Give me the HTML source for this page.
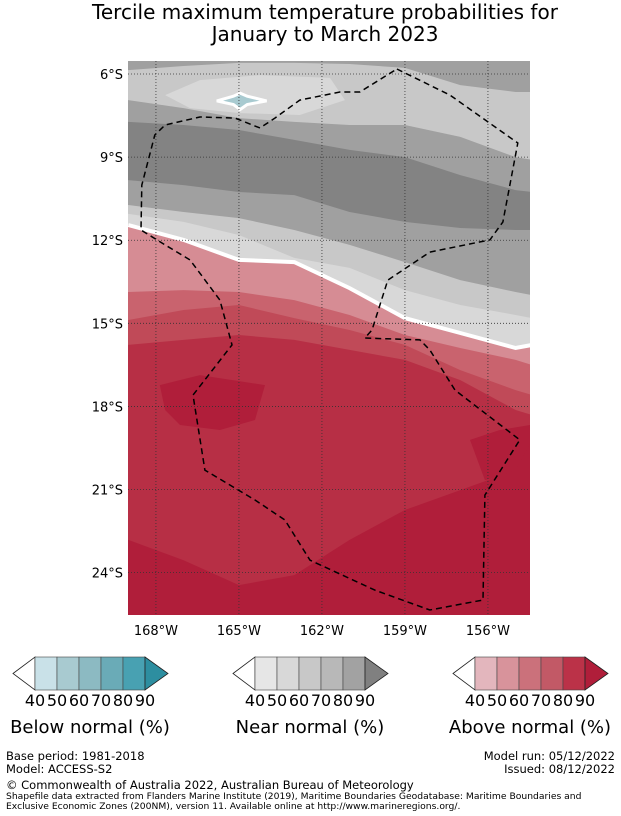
<!DOCTYPE html>
<html><head><meta charset="utf-8">
<style>
body{margin:0;background:#fff;width:621px;height:816px;overflow:hidden;font-family:"DejaVu Sans","Liberation Sans",sans-serif;color:#000}
svg{position:absolute;left:0;top:0}
</style></head>
<body>
<svg id="chart" width="621" height="816" viewBox="0 0 621 816" xmlns="http://www.w3.org/2000/svg" font-family="DejaVu Sans, Liberation Sans, sans-serif">
  <text x="325" y="19" font-size="20" text-anchor="middle">Tercile maximum temperature probabilities for</text>
  <text x="325" y="41" font-size="20" text-anchor="middle">January to March 2023</text>
  <defs><clipPath id="mapclip"><rect x="128" y="61" width="402" height="554"/></clipPath></defs>
  <g id="map" clip-path="url(#mapclip)"></g>
  <g id="axes"></g>
  <g id="legends"></g>
  <text x="6" y="760" font-size="11.5">Base period: 1981-2018</text>
  <text x="6" y="773" font-size="11.5">Model: ACCESS-S2</text>
  <text x="615" y="760" font-size="11.5" text-anchor="end">Model run: 05/12/2022</text>
  <text x="615" y="773" font-size="11.5" text-anchor="end">Issued: 08/12/2022</text>
  <text x="6" y="789" font-size="11.5">© Commonwealth of Australia 2022, Australian Bureau of Meteorology</text>
  <text x="6" y="799" font-size="9.2">Shapefile data extracted from Flanders Marine Institute (2019), Maritime Boundaries Geodatabase: Maritime Boundaries and</text>
  <text x="6" y="809" font-size="9.2">Exclusive Economic Zones (200NM), version 11. Available online at http://www.marineregions.org/.</text>
</svg>
<script>
// ---- data ----
const lonTicks = [-168, -165, -162, -159, -156];
const latTicks = [-6, -9, -12, -15, -18, -21, -24];
const sampleLons = [-169, -167, -165, -163, -161, -159, -157, -155, -154.4];
const topColor = "#a0a0a0";
const bandColors = ["#c8c8c8","#a0a0a0","#838383","#a0a0a0","#c8c8c8","#d8d8d8","#d68c94","#c9636e","#c04a58","#b72f45","#b01e3a"];
const b1 = [-5.86,-5.71,-5.60,-5.60,-5.64,-5.78,-6.40,-6.65,-6.65];
const b3 = [-6.94,-7.23,-7.59,-7.73,-7.84,-7.84,-8.27,-9.00,-9.10];
const b4 = [-7.73,-7.84,-8.02,-8.38,-8.74,-9.00,-9.65,-10.19,-10.26];
const b5 = [-9.83,-10.01,-10.26,-10.37,-10.98,-11.34,-11.56,-11.63,-11.63];
const b6 = [-10.73,-10.98,-11.20,-11.63,-12.17,-12.79,-13.44,-13.87,-13.98];
const b7 = [-11.05,-11.34,-11.81,-12.64,-13.00,-13.80,-14.34,-14.70,-14.81];
const b8 = [-11.45,-11.99,-12.71,-12.79,-13.73,-14.81,-15.35,-15.89,-15.78];
const b9 = [-13.87,-13.80,-13.87,-14.16,-14.70,-15.42,-15.89,-16.32,-16.51];
const b10 = [-14.88,-14.52,-14.34,-14.81,-15.24,-15.78,-16.69,-17.41,-17.59];
const b11 = [-15.78,-15.60,-15.42,-15.60,-15.96,-16.32,-17.05,-18.13,-18.31];
const b12 = [-22.82,-23.55,-24.45,-24.09,-22.82,-21.74,-21.02,-20.30,-19.21];
const lightBlobLon = [-167.67,-166.41,-164.24,-161.71,-161.17,-162.80,-164.96,-166.77];
const lightBlobLat = [-6.76,-6.22,-6.04,-6.14,-6.94,-7.48,-7.41,-7.23];
const bluePatchLon = [-165.8,-165.2,-164.96,-164.7,-164.0,-164.7,-164.96,-165.2];
const bluePatchLat = [-6.97,-6.8,-6.69,-6.8,-6.97,-7.1,-7.28,-7.1];
const darkBlobLon = [-167.86,-166.41,-164.06,-164.42,-165.69,-167.13,-167.67];
const darkBlobLat = [-17.23,-16.87,-17.23,-18.49,-18.85,-18.67,-18.13];
const darkBlob2Lon = [-156.65,-155.57,-154.48,-154.48,-156.11];
const darkBlob2Lat = [-19.21,-18.85,-18.67,-20.30,-20.66];
const eezLon = [-159.29,-157.37,-154.92,-155.46,-155.93,-158.10,-159.62,-160.19,-160.45,-158.46,-158.10,-157.19,-154.85,-156.11,-156.18,-158.10,-160.09,-162.43,-163.34,-164.42,-166.23,-166.66,-165.25,-165.69,-166.77,-167.67,-168.54,-168.51,-168.04,-167.67,-166.41,-165.14,-164.24,-163.70,-162.80,-161.35,-160.63,-159.29];
const eezLat = [-5.82,-6.76,-8.49,-11.34,-11.99,-12.43,-13.44,-15.24,-15.53,-15.60,-15.96,-17.41,-19.21,-21.20,-24.99,-25.35,-24.63,-23.55,-22.10,-21.38,-20.30,-17.59,-15.78,-14.16,-12.71,-12.17,-11.63,-10.01,-8.20,-7.84,-7.55,-7.59,-7.95,-7.59,-6.94,-6.65,-6.65,-5.82];
const levelLabels = ["40","50","60","70","80","90"];
const legendNames = ["Below normal (%)","Near normal (%)","Above normal (%)"];
const blueScale = ["#ffffff","#c9e1e8","#a8cad0","#8cbac2","#6aabb7","#48a1b2","#2d8ea0"];
const grayScale = ["#ffffff","#e6e6e6","#d8d8d8","#c8c8c8","#b8b8b8","#a2a2a2","#808080"];
const redScale = ["#ffffff","#e3b6bd","#d8939b","#cb717b","#c25966","#bb3248","#b01e3a"];

// ---- axes functions ----
const X0=128, X1=530, Y0=61, Y1=615;
const lonMin=-169.01, lonMax=-154.48, latMax=-5.53, latMin=-25.53;
const xs = lon => X0 + (lon-lonMin)/(lonMax-lonMin)*(X1-X0);
const ys = lat => Y0 + (latMax-lat)/(latMax-latMin)*(Y1-Y0);
const NS="http://www.w3.org/2000/svg";
function mk(tag, attrs, parent){const e=document.createElementNS(NS,tag);for(const k in attrs)e.setAttribute(k,attrs[k]);parent.appendChild(e);return e;}
const map=document.getElementById('map'), axes=document.getElementById('axes'), leg=document.getElementById('legends');

let r=mk('rect',{x:X0,y:Y0,width:X1-X0,height:Y1-Y0,fill:topColor},map);



function bandPath(lats){
  let d='M'+(X0-5)+','+(Y1+5);
  d+=' L'+(X0-5)+','+ys(lats[0]);
  sampleLons.forEach((lo,i)=>{d+=' L'+xs(lo).toFixed(1)+','+ys(lats[i]).toFixed(1);});
  d+=' L'+(X1+5)+','+ys(lats[lats.length-1]).toFixed(1)+' L'+(X1+5)+','+(Y1+5)+' Z';
  return d;
}
function polyPath(lons,lats){return 'M'+lons.map((lo,i)=>xs(lo).toFixed(1)+','+ys(lats[i]).toFixed(1)).join(' L')+' Z';}

const bounds=[b1,b3,b4,b5,b6,b7,b8,b9,b10,b11,b12];
bounds.forEach((b,i)=>{
  if(i===1){
    const lb=mk('path',{d:polyPath(lightBlobLon,lightBlobLat),fill:"#d8d8d8"},map);
    
    
  }
  if(i===10){
    const db=mk('path',{d:polyPath(darkBlobLon,darkBlobLat),fill:"#b01e3a"},map);
    
    
    const db2=mk('path',{d:polyPath(darkBlob2Lon,darkBlob2Lat),fill:"#b01e3a"},map);
    
    
  }
  const p=mk('path',{d:bandPath(b),fill:bandColors[i]},map);
  
  
  if(i===6){
    let d='';sampleLons.forEach((lo,j)=>{d+=(j?' L':'M')+xs(lo).toFixed(1)+','+ys(b[j]).toFixed(1);});
    const w=mk('path',{d:d,fill:'none',stroke:'#fff','stroke-width':4},map);
    
    
  }
});
const bp=mk('path',{d:polyPath(bluePatchLon,bluePatchLat),fill:"#a8cad0",stroke:"#fff","stroke-width":3},map);



lonTicks.forEach(lo=>{
  const l=mk('line',{x1:xs(lo),x2:xs(lo),y1:Y0,y2:Y1,stroke:'#333','stroke-width':0.8,'stroke-dasharray':'1,2'},map);
  
  
  const t=mk('text',{x:xs(lo),y:635,'font-size':13,'text-anchor':'middle'},axes);
  t.textContent=Math.abs(lo)+'°W';
  
  
});
latTicks.forEach(la=>{
  const l=mk('line',{x1:X0,x2:X1,y1:ys(la),y2:ys(la),stroke:'#333','stroke-width':0.8,'stroke-dasharray':'1,2'},map);
  
  
  const t=mk('text',{x:123,y:ys(la)+5,'font-size':13,'text-anchor':'end'},axes);
  t.textContent=Math.abs(la)+'°S';
  
  
});
const eez=mk('path',{d:polyPath(eezLon,eezLat),fill:'none',stroke:'#000','stroke-width':1.5,'stroke-dasharray':'6,4'},map);



const legX=[13,233,453], scales=[blueScale,grayScale,redScale];
legX.forEach((x0,k)=>{
  const g=mk('g',{},leg);
  
  
  const yT=657,yB=690,ym=673.5,bw=22,bx=x0+22;
  const lt=mk('polygon',{points:`${x0},${ym} ${bx},${yT} ${bx},${yB}`,fill:scales[k][0],stroke:'#222','stroke-width':0.8},g);
  
  
  for(let i=0;i<5;i++){
    const c=mk('rect',{x:bx+i*bw,y:yT,width:bw,height:yB-yT,fill:scales[k][i+1],stroke:'#444','stroke-width':0.6},g);
    
    
  }
  const ex=bx+5*bw;
  const rt=mk('polygon',{points:`${ex},${yT} ${ex+23},${ym} ${ex},${yB}`,fill:scales[k][6],stroke:'#222','stroke-width':0.8},g);
  
  
  levelLabels.forEach((lb,i)=>{
    const t=mk('text',{x:bx+i*bw,y:706,'font-size':16,'text-anchor':'middle'},g);
    t.textContent=lb;
    
    
  });
  const tt=mk('text',{x:x0+77,y:733,'font-size':18,'text-anchor':'middle'},g);
  tt.textContent=legendNames[k];
  
  
});
</script>
</body></html>
